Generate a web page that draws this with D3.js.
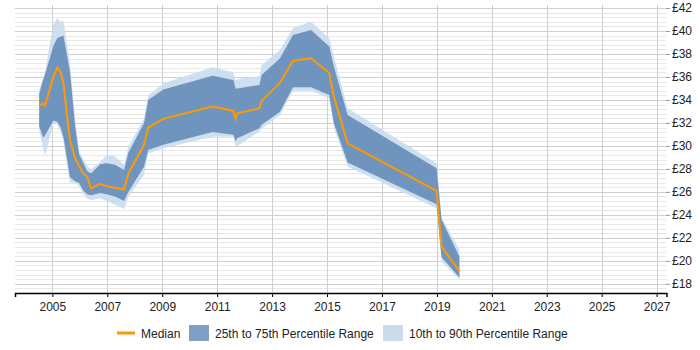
<!DOCTYPE html>
<html>
<head>
<meta charset="utf-8">
<script src="https://cdn.jsdelivr.net/npm/d3@7"></script>
<style>
  body { margin: 0; background: #fff; }
  svg { font-family: Arial, "Liberation Sans", sans-serif; }
</style>
</head>
<body>
<svg width="700" height="350"></svg>
<script>
// DATA (fractional years, hourly rate in £)
var years = [2004.52, 2004.67, 2004.73, 2005.04, 2005.18, 2005.30, 2005.40, 2005.54, 2005.64, 2005.83,
             2005.97, 2006.13, 2006.27, 2006.41, 2006.74, 2006.98, 2007.28, 2007.61, 2007.77, 2008.34,
             2008.49, 2009.04, 2010.83, 2011.59, 2011.67, 2011.73, 2012.54, 2012.62, 2013.29, 2013.76,
             2014.42, 2015.08, 2015.25, 2015.75, 2018.99, 2019.17, 2019.82];
var median = [33.5, 33.7, 33.5, 36.0, 36.8, 36.4, 35.5, 32.5, 30.5, 28.9,
              28.3, 27.6, 27.3, 26.3, 26.7, 26.5, 26.35, 26.2, 27.6, 30.1,
              31.6, 32.35, 33.42, 33.04, 32.35, 32.84, 33.28, 33.91, 35.5, 37.42,
              37.62, 36.35, 34.29, 30.23, 26.09, 21.24, 19.1];
var p25 = [31.7, 30.7, 30.9, 32.2, 32.1, 31.6, 30.8, 28.8, 27.3, 26.9,
           26.8, 26.1, 25.8, 25.7, 25.9, 25.8, 25.6, 25.2, 26.0, 28.2,
           29.65, 30.1, 31.2, 30.96, 30.4, 30.67, 31.54, 31.83, 32.98, 35.1,
           35.1, 34.43, 31.97, 28.55, 24.92, 20.32, 18.55];
var p75 = [34.5, 35.8, 36.2, 38.7, 39.4, 39.5, 39.6, 37.8, 36.5, 31.7,
           29.3, 28.5, 27.8, 27.6, 28.4, 28.5, 28.35, 27.9, 29.4, 32.0,
           34.0, 34.9, 36.1, 35.74, 35.0, 35.0, 35.3, 36.17, 37.62, 39.65,
           40.09, 38.64, 36.9, 32.7, 28.06, 23.57, 20.37];
var p10 = [31.4, 29.8, 29.1, 32.0, 31.9, 31.2, 30.5, 28.2, 26.8, 26.8,
           26.5, 25.8, 25.4, 25.3, 25.45, 25.2, 24.9, 24.5, 25.6, 27.5,
           29.36, 29.8, 30.8, 30.8, 29.9, 30.0, 31.26, 31.5, 32.7, 34.81,
           34.81, 34.15, 31.6, 28.2, 24.58, 19.94, 18.4];
var p90 = [34.9, 35.9, 36.4, 40.6, 41.1, 40.8, 40.9, 38.8, 37.2, 32.2,
           29.6, 28.8, 28.3, 28.0, 28.6, 29.2, 29.1, 28.35, 29.9, 32.4,
           34.4, 35.45, 36.85, 36.4, 35.7, 35.8, 36.09, 37.04, 38.35, 40.29,
           40.81, 39.36, 37.77, 33.28, 28.5, 23.8, 20.96];
var yearTicks = [2005, 2007, 2009, 2011, 2013, 2015, 2017, 2019, 2021, 2023, 2025, 2027];
var rateTicks = [18, 20, 22, 24, 26, 28, 30, 32, 34, 36, 38, 40, 42];
var legendItems = ["Median", "25th to 75th Percentile Range", "10th to 90th Percentile Range"];

// SETUP
var svg = d3.select("svg"),
    x = d3.scaleLinear().domain([2003.64, 2027.36]).range([15, 666.5]),
    y = d3.scaleLinear().domain([17.2, 42]).range([293, 8]);

var rows = years.map(function (yr, i) {
    return { yr: yr, med: median[i], lo25: p25[i], hi75: p75[i], lo10: p10[i], hi90: p90[i] };
});

// grid
var minor = d3.range(17.6, 42.01, 0.4).filter(function (v) {
    return Math.abs(v / 2 - Math.round(v / 2)) > 0.01;
});
svg.append("g").selectAll("line").data(minor).enter().append("line")
    .attr("x1", 15).attr("x2", 666.5)
    .attr("y1", function (d) { return Math.round(y(d)) + 0.5; })
    .attr("y2", function (d) { return Math.round(y(d)) + 0.5; })
    .attr("stroke", "#e8e8e8");

svg.append("g").selectAll("line").data(rateTicks).enter().append("line")
    .attr("x1", 15).attr("x2", 666.5)
    .attr("y1", function (d) { return Math.round(y(d)) + 0.5; })
    .attr("y2", function (d) { return Math.round(y(d)) + 0.5; })
    .attr("stroke", "#cfcfcf");

svg.append("g").selectAll("line").data(yearTicks).enter().append("line")
    .attr("x1", function (d) { return Math.round(x(d)) + 0.5; })
    .attr("x2", function (d) { return Math.round(x(d)) + 0.5; })
    .attr("y1", 5).attr("y2", 293)
    .attr("stroke", "#cfcfcf");

// bands
var area = function (lo, hi) {
    return d3.area()
        .x(function (d) { return x(d.yr); })
        .y0(function (d) { return y(d[lo]); })
        .y1(function (d) { return y(d[hi]); });
};

svg.append("path").datum(rows)
    .attr("d", area("lo10", "hi90"))
    .attr("fill", "#c9dbee").attr("fill-opacity", 0.9);

svg.append("path").datum(rows)
    .attr("d", area("lo25", "hi75"))
    .attr("fill", "#6990ba").attr("fill-opacity", 0.95);

svg.append("path").datum(rows)
    .attr("d", d3.line().x(function (d) { return x(d.yr); }).y(function (d) { return y(d.med); }))
    .attr("fill", "none").attr("stroke", "#ff9900").attr("stroke-width", 2);

// axes
var xAxis = svg.append("g")
    .attr("transform", "translate(0,293)")
    .call(d3.axisBottom(x).tickValues(yearTicks).tickFormat(d3.format("d")).tickSizeOuter(0).tickSize(4));
xAxis.select(".domain").attr("stroke", "#000").attr("stroke-width", 1.5);
xAxis.selectAll("text").attr("font-size", 12).attr("fill", "#222").attr("dy", "0.9em");

var yAxis = svg.append("g")
    .attr("transform", "translate(666,0)")
    .call(d3.axisRight(y).tickValues(rateTicks).tickFormat(function (d) { return "£" + d; }).tickSize(4));
yAxis.select(".domain").remove();
yAxis.selectAll("line").attr("stroke", "#999");
yAxis.selectAll("text").attr("font-size", 12).attr("fill", "#222").attr("x", 6);

// legend
var legend = svg.append("g").attr("transform", "translate(0,333)");
legend.append("line").attr("x1", 117).attr("x2", 135).attr("y1", 0).attr("y2", 0)
    .attr("stroke", "#ff9900").attr("stroke-width", 3);
legend.append("text").attr("x", 141).attr("y", 4.5).text(legendItems[0]);
legend.append("rect").attr("x", 189).attr("y", -8).attr("width", 20).attr("height", 16).attr("fill", "#7f9fc4");
legend.append("text").attr("x", 215).attr("y", 4.5).text(legendItems[1]);
legend.append("rect").attr("x", 383).attr("y", -8).attr("width", 20).attr("height", 16).attr("fill", "#cddcec");
legend.append("text").attr("x", 409).attr("y", 4.5).text(legendItems[2]);
legend.selectAll("text").attr("font-size", 12).attr("fill", "#222");
</script>
</body>
</html>
